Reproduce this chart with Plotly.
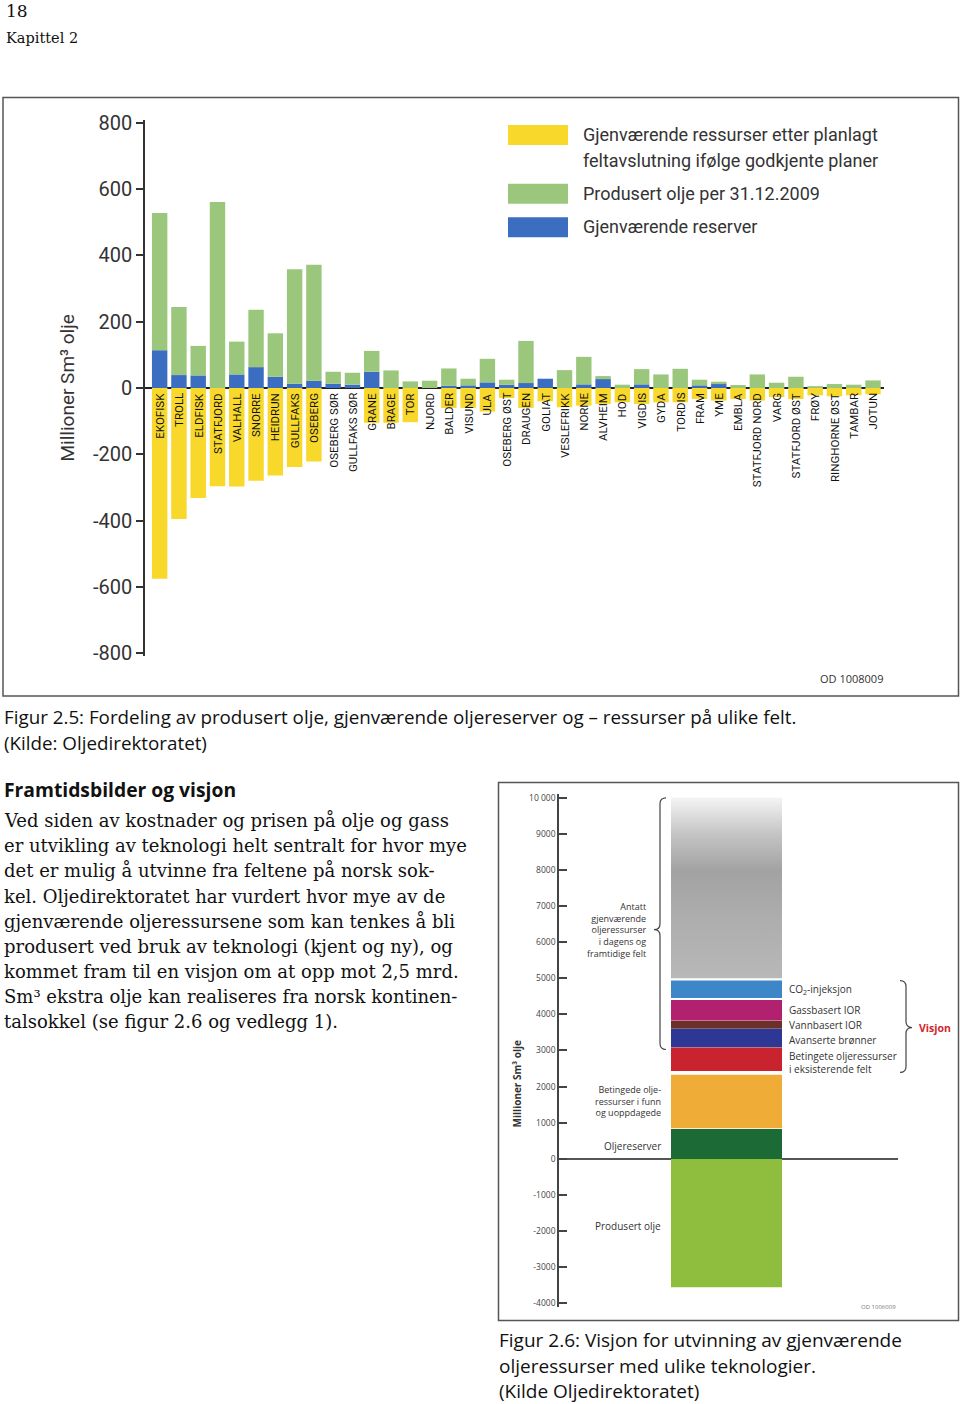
import plotly.graph_objects as go

W, H = 960, 1404

# ---------------- data: figure 2.5 ----------------
fields = ["EKOFISK", "TROLL", "ELDFISK", "STATFJORD", "VALHALL", "SNORRE", "HEIDRUN",
          "GULLFAKS", "OSEBERG", "OSEBERG SØR", "GULLFAKS SØR", "GRANE", "BRAGE", "TOR",
          "NJORD", "BALDER", "VISUND", "ULA", "OSEBERG ØST", "DRAUGEN", "GOLIAT",
          "VESLEFRIKK", "NORNE", "ALVHEIM", "HOD", "VIGDIS", "GYDA", "TORDIS", "FRAM",
          "YME", "EMBLA", "STATFJORD NORD", "VARG", "STATFJORD ØST", "FRØY",
          "RINGHORNE ØST", "TAMBAR", "JOTUN"]
reserves = [114, 39, 38, 0, 41, 63, 34, 13, 22, 13, 10, 49, 0, 0, 0, 7, 8, 17, 10, 15, 28,
            0, 11, 27, 0, 11, 0, 0, 8, 13, 0, 0, 0, 0, 0, 0, 0, 0]
produced = [414, 205, 89, 561, 99, 173, 131, 345, 350, 36, 36, 63, 53, 20, 22, 52, 20, 71,
            15, 127, 0, 54, 83, 9, 10, 46, 41, 58, 17, 6, 9, 41, 16, 34, 3, 12, 10, 23]
remaining = [-575, -395, -332, -296, -297, -280, -264, -238, -222, 0, 0, -105, -105, -103,
             0, -60, -60, -71, -30, -60, -40, -58, -53, -48, -43, -48, -43, -43, -33, -38,
             -33, -38, -27, -33, -22, -25, -22, -19]

y1_ticks = [-800, -600, -400, -200, 0, 200, 400, 600, 800]
y1_ticktext = ["-800", "-600", "-400", "-200", "0", "200", "400", "600", "800"]

legend1_names = ["Gjenværende ressurser etter planlagt",
                 "feltavslutning ifølge godkjente planer",
                 "Produsert olje per 31.12.2009",
                 "Gjenværende reserver"]

# ---------------- data: figure 2.6 ----------------
vis_labels = ["Produsert olje", "Oljereserver",
              "Betingede oljeressurser i funn og uoppdagede",
              "Betingete oljeressurser i eksisterende felt",
              "Avanserte brønner", "Vannbasert IOR", "Gassbasert IOR", "CO2-injeksjon"]
vis_base = [0, 0, 850, 2430, 3090, 3610, 3830, 4450]
vis_top = [-3550, 830, 2330, 3080, 3610, 3820, 4400, 4940]
antatt_base = 5000
antatt_top = 10000

y2_ticks = [-4000, -3000, -2000, -1000, 0, 1000, 2000, 3000, 4000, 5000, 6000, 7000,
            8000, 9000, 10000]
y2_ticktext = ["-4000", "-3000", "-2000", "-1000", "0", "1000", "2000", "3000", "4000",
               "5000", "6000", "7000", "8000", "9000", "10 000"]

# ---------------- styles ----------------
YEL, GRN, BLU = "#f8d82a", "#9bc77c", "#3b6dc1"
vis_colors = ["#8fbe3e", "#1c6a36", "#efac36", "#c8232f", "#2e3894", "#6d3029",
              "#b1216f", "#3d86c8"]
COND = "Roboto, Liberation Sans, sans-serif"
SERIF = "DejaVu Serif, Liberation Serif, serif"
SANS = "Open Sans, Noto Sans, sans-serif"

# the captured picture shows the page slightly compressed vertically; map page
# positions so that they land where they sit in the reference picture
V_OFF, V_SCALE = 7.9, 0.9887


def px(x):
    return x / W


def py(y):
    return 1 - ((y - V_OFF) / V_SCALE) / H


fig = go.Figure()

# chart 1 bars
fig.add_trace(go.Bar(x=fields, y=reserves, base=[0] * len(fields), width=0.8,
                     marker=dict(color=BLU, line=dict(width=0)), name="Gjenværende reserver",
                     xaxis="x", yaxis="y", showlegend=False))
fig.add_trace(go.Bar(x=fields, y=produced, base=reserves, width=0.8,
                     marker=dict(color=GRN, line=dict(width=0)), name="Produsert olje",
                     xaxis="x", yaxis="y", showlegend=False))
fig.add_trace(go.Bar(x=fields, y=remaining, base=[0] * len(fields), width=0.8,
                     marker=dict(color=YEL, line=dict(width=0)), name="Gjenværende ressurser",
                     xaxis="x", yaxis="y", showlegend=False))

# chart 2 bars
bar_c, bar_w = 0, 1.0
fig.add_trace(go.Bar(x=[bar_c] * len(vis_labels), base=vis_base,
                     y=[t - b for t, b in zip(vis_top, vis_base)], width=bar_w,
                     marker=dict(color=vis_colors, line=dict(width=0)),
                     hovertext=vis_labels, xaxis="x2", yaxis="y2", showlegend=False))
fig.add_trace(go.Scatter(
    x=[bar_c - bar_w / 2, bar_c + bar_w / 2, bar_c + bar_w / 2, bar_c - bar_w / 2, bar_c - bar_w / 2],
    y=[antatt_base, antatt_base, antatt_top, antatt_top, antatt_base],
    mode="lines", line=dict(width=0), fill="toself",
    fillgradient=dict(type="vertical", start=antatt_base, stop=antatt_top,
                      colorscale=[[0, "#b8b8b8"], [0.35, "#adadad"], [0.6, "#a2a2a2"],
                                  [0.8, "#c4c4c4"], [1, "#f4f4f4"]]),
    xaxis="x2", yaxis="y2", showlegend=False, hoverinfo="skip"))

ann = []


def txt(x, y, s, size, family=SANS, color="#222", xanchor="left", yanchor="middle",
        angle=0, align=None):
    ann.append(dict(x=px(x), y=py(y), xref="paper", yref="paper", text=s, showarrow=False,
                    font=dict(size=size, family=family, color=color), xanchor=xanchor,
                    yanchor=yanchor, textangle=angle, align=align or xanchor))


# field labels inside chart 1
for f in fields:
    ann.append(dict(x=f, y=0, xref="x", yref="y", text=f, showarrow=False, textangle=-90,
                    xanchor="center", yanchor="top", yshift=-3,
                    font=dict(size=11.5, family=COND, color="#111")))

# page header
txt(4, 10, "18", 17, SERIF, "#111")
txt(4, 37, "Kapittel 2", 14.5, SERIF, "#111")

# chart 1 texts
txt(68, 388, "Millioner Sm³ olje", 19, COND, "#333", "center", "middle", -90)
txt(581, 134, legend1_names[0], 18, COND, "#333")
txt(581, 160, legend1_names[1], 18, COND, "#333")
txt(581, 193, legend1_names[2], 18, COND, "#333")
txt(581, 226, legend1_names[3], 18, COND, "#333")
txt(885, 678, "OD 1008009", 11, SANS, "#333", "right")

# captions and body
txt(2, 717, "Figur 2.5: Fordeling av produsert olje, gjenværende oljereserver og – ressurser på ulike felt.", 18.8, SANS, "#111")
txt(2, 743, "(Kilde: Oljedirektoratet)", 18.8, SANS, "#111")
txt(2, 790, "<b>Framtidsbilder og visjon</b>", 19.3, SANS, "#111")
body = ["Ved siden av kostnader og prisen på olje og gass",
        "er utvikling av teknologi helt sentralt for hvor mye",
        "det er mulig å utvinne fra feltene på norsk sok-",
        "kel. Oljedirektoratet har vurdert hvor mye av de",
        "gjenværende oljeressursene som kan tenkes å bli",
        "produsert ved bruk av teknologi (kjent og ny), og",
        "kommet fram til en visjon om at opp mot 2,5 mrd.",
        "Sm³ ekstra olje kan realiseres fra norsk kontinen-",
        "talsokkel (se figur 2.6 og vedlegg 1)."]
for i, line in enumerate(body):
    txt(2, 821 + i * 25.1, line, 18, SERIF, "#111")

cap2 = ["Figur 2.6: Visjon for utvinning av gjenværende",
        "oljeressurser med ulike teknologier.",
        "(Kilde Oljedirektoratet)"]
for i, s in enumerate(cap2):
    txt(497, 1341 + i * 25.5, s, 19, SANS, "#111")

# chart 2 texts
txt(517, 1085, "<b>Millioner Sm³ olje</b>", 10, SANS, "#333", "center", "middle", -90)
txt(648, 930, "Antatt<br>gjenværende<br>oljeressurser<br>i dagens og<br>framtidige felt",
    9, SANS, "#333", "right")
for y, s in [(990, "CO<sub>2</sub>-injeksjon"), (1010.5, "Gassbasert IOR"),
             (1025.5, "Vannbasert IOR"), (1040, "Avanserte brønner")]:
    txt(787, y, s, 10, SANS, "#333")
txt(787, 1063, "Betingete oljeressurser<br>i eksisterende felt", 10, SANS, "#333")
txt(917, 1028, "<b>Visjon</b>", 10.5, SANS, "#d3252b")
txt(663, 1101.5, "Betingede olje-<br>ressurser i funn<br>og uoppdagede", 9, SANS, "#333", "right")
txt(663, 1147, "Oljereserver", 10, SANS, "#333", "right")
txt(663, 1226.5, "Produsert olje", 10, SANS, "#333", "right")
txt(898, 1308, "OD 1006009", 6, SANS, "#777", "right")

# shapes
shapes = []
shapes.append(dict(type="rect", xref="paper", yref="paper", x0=px(3), x1=px(958.5),
                   y0=py(696), y1=py(96.5), line=dict(color="#555", width=1.5)))
shapes.append(dict(type="rect", xref="paper", yref="paper", x0=px(498.5), x1=px(958.5),
                   y0=py(1321.5), y1=py(782.5), line=dict(color="#555", width=1.5)))
# legend swatches chart 1
for (y0, y1), c in zip([(124, 144), (183, 203), (216.5, 236.5)], [YEL, GRN, BLU]):
    shapes.append(dict(type="rect", xref="paper", yref="paper", x0=px(508), x1=px(568),
                       y0=py(y1), y1=py(y0), line=dict(width=0), fillcolor=c))


def brace(x0, yt, yb, ym, w):
    pts = lambda x, y: f"{px(x):.5f},{py(y):.5f}"
    return ("M " + pts(x0 + w, yt) + " Q " + pts(x0, yt) + " " + pts(x0, yt + abs(w)) +
            " L " + pts(x0, ym - abs(w)) + " Q " + pts(x0, ym) + " " + pts(x0 - w, ym) +
            " Q " + pts(x0, ym) + " " + pts(x0, ym + abs(w)) +
            " L " + pts(x0, yb - abs(w)) + " Q " + pts(x0, yb) + " " + pts(x0 + w, yb))


shapes.append(dict(type="path", xref="paper", yref="paper", path=brace(660, 798, 1050, 930, 6),
                   line=dict(color="#444", width=1.2)))
shapes.append(dict(type="path", xref="paper", yref="paper", path=brace(906, 981, 1073, 1028, -6),
                   line=dict(color="#444", width=1.2)))

fig.update_layout(
    autosize=True, margin=dict(l=0, r=0, t=0, b=0, pad=0),
    paper_bgcolor="white", plot_bgcolor="rgba(0,0,0,0)",
    barmode="overlay", showlegend=False,
    annotations=ann, shapes=shapes,
    xaxis=dict(domain=[px(145), px(884)], range=[-0.76, 37.57], type="category",
               showticklabels=False, showline=False, showgrid=False, zeroline=False,
               ticks="", anchor="y", fixedrange=True),
    yaxis=dict(domain=[py(655.8), py(119.2)], range=[-808, 808], anchor="x",
               tickvals=y1_ticks, ticktext=y1_ticktext, ticks="outside", ticklen=7,
               tickwidth=1.5, tickcolor="#333", showline=True, linecolor="#333",
               linewidth=1.5, showgrid=False, zeroline=True, zerolinecolor="#222",
               zerolinewidth=2, tickfont=dict(size=20, family=COND, color="#333"),
               fixedrange=True),
    xaxis2=dict(domain=[px(559), px(898)], range=[(559 - 726.5) / 111, (898 - 726.5) / 111],
                anchor="y2", visible=False, fixedrange=True),
    yaxis2=dict(domain=[py(1307.9), py(794.1)], range=[-4100, 10100], anchor="x2",
                tickvals=y2_ticks, ticktext=y2_ticktext, ticks="inside", ticklen=8,
                tickwidth=1.5, tickcolor="#444", showline=True, linecolor="#444",
                linewidth=1.5, showgrid=False, zeroline=True, zerolinecolor="#555",
                zerolinewidth=1.5, tickfont=dict(size=8.5, family=SANS, color="#444"),
                fixedrange=True),
)

fig.write_html("out.html", config={"displayModeBar": False, "responsive": False},
               default_width=f"{W}px;position:absolute;top:0;left:0",
               default_height=f"{H}px",
               post_script="document.body.style.margin='0';")
